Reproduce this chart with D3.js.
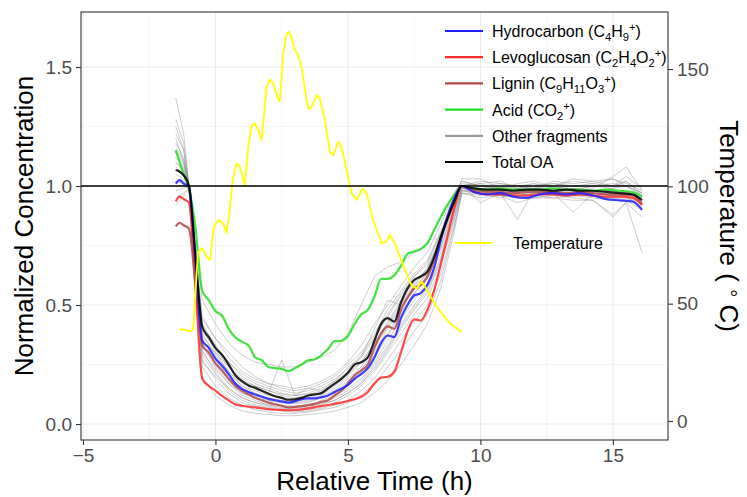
<!DOCTYPE html>
<html>
<head>
<meta charset="utf-8">
<script src="https://cdn.jsdelivr.net/npm/d3@7"></script>
<style>
  body { margin: 0; background: #fff; }
  svg { display: block; font-family: "Liberation Sans", Arial, Helvetica, sans-serif; }
</style>
</head>
<body>
<svg id="chart" width="747" height="497"></svg>
<script>
// Normalized concentration during heating, with temperature on a second axis

var width = 747,
    height = 497;

var m = {top: 12, right: 79, bottom: 57, left: 81};

// time grid (h) shared by the highlighted series
var times = [-1.5, -1.35, -1.2, -1.0, -0.75, -0.5, -0.25,
  0, 0.25, 0.5, 0.75, 1, 1.25, 1.5, 1.75, 2, 2.25, 2.5, 2.75, 3, 3.25, 3.5, 3.75,
  4, 4.25, 4.5, 4.75, 5, 5.25, 5.5, 5.75, 6, 6.25, 6.5, 6.75, 7, 7.25, 7.5, 7.75,
  8, 8.25, 8.5, 8.75, 9,
  9.3, 9.75, 10.25, 10.75, 11.25, 11.75, 12.25, 12.75, 13.25, 13.75, 14.25, 14.75, 15.25, 15.75, 16.1];

var hydrocarbon = [1.01, 1.025, 1.01, 1.0, 0.68, 0.35, 0.32,
  0.275, 0.245, 0.21, 0.17, 0.148, 0.135, 0.124, 0.115, 0.106, 0.10, 0.095, 0.09, 0.095, 0.105, 0.108, 0.108,
  0.113, 0.12, 0.135, 0.148, 0.165, 0.19, 0.21, 0.235, 0.28, 0.34, 0.372, 0.365, 0.445, 0.50, 0.54, 0.55,
  0.585, 0.655, 0.77, 0.87, 0.945,
  1.0, 0.975, 0.965, 0.97, 0.955, 0.95, 0.965, 0.97, 0.965, 0.97, 0.96, 0.945, 0.94, 0.935, 0.90];

var levoglucosan = [0.935, 0.955, 0.945, 0.93, 0.57, 0.19, 0.16,
  0.14, 0.118, 0.10, 0.083, 0.077, 0.073, 0.07, 0.066, 0.063, 0.06, 0.059, 0.058, 0.059, 0.062, 0.066, 0.071,
  0.076, 0.08, 0.085, 0.09, 0.097, 0.104, 0.115, 0.135, 0.17, 0.195, 0.198, 0.22, 0.30, 0.39, 0.44, 0.435,
  0.48, 0.56, 0.67, 0.785, 0.90,
  1.0, 0.975, 0.965, 0.965, 0.96, 0.96, 0.965, 0.965, 0.96, 0.965, 0.96, 0.955, 0.955, 0.95, 0.92];

var lignin = [0.83, 0.845, 0.835, 0.82, 0.58, 0.33, 0.30,
  0.255, 0.225, 0.19, 0.16, 0.14, 0.125, 0.11, 0.10, 0.09, 0.083, 0.077, 0.07, 0.072, 0.075, 0.08, 0.085,
  0.093, 0.10, 0.12, 0.14, 0.17, 0.205, 0.225, 0.25, 0.32, 0.38, 0.41, 0.40, 0.48, 0.53, 0.57, 0.585,
  0.62, 0.69, 0.78, 0.865, 0.94,
  1.0, 0.98, 0.975, 0.975, 0.97, 0.975, 0.975, 0.975, 0.97, 0.975, 0.97, 0.965, 0.965, 0.96, 0.925];

var acid = [1.15, 1.10, 1.05, 0.99, 0.82, 0.56, 0.52,
  0.475, 0.455, 0.40, 0.365, 0.345, 0.33, 0.28, 0.268, 0.24, 0.235, 0.232, 0.222, 0.235, 0.25, 0.268, 0.272,
  0.29, 0.315, 0.348, 0.35, 0.37, 0.42, 0.46, 0.48, 0.535, 0.61, 0.61, 0.625, 0.665, 0.715, 0.725, 0.735,
  0.76, 0.815, 0.87, 0.92, 0.96,
  1.0, 0.99, 0.985, 0.99, 0.985, 0.985, 0.985, 0.99, 0.985, 0.985, 0.98, 0.985, 0.98, 0.975, 0.955];

var totalOA = [1.067, 1.06, 1.045, 1.0, 0.70, 0.41, 0.365,
  0.32, 0.29, 0.25, 0.205, 0.18, 0.162, 0.152, 0.14, 0.127, 0.117, 0.11, 0.102, 0.104, 0.11, 0.12, 0.125,
  0.13, 0.15, 0.17, 0.19, 0.215, 0.25, 0.26, 0.28, 0.35, 0.42, 0.445, 0.43, 0.51, 0.57, 0.605, 0.62,
  0.64, 0.70, 0.785, 0.86, 0.93,
  1.0, 0.99, 0.985, 0.985, 0.98, 0.985, 0.985, 0.98, 0.985, 0.98, 0.98, 0.975, 0.97, 0.965, 0.94];

// coarser grid for the other (grey) fragments
var grayTimes = [-1.5, -1.2, -1.0, -0.5, 0, 0.5, 1, 1.5, 2, 2.5, 3, 3.5, 4, 4.5, 5, 5.5, 6, 6.5, 7, 7.5,
  8, 8.5, 9, 9.3, 10, 10.75, 11.4, 12, 12.75, 13.5, 14.25, 15, 15.5, 16.1];

var otherFragments = [
  [1.37,1.22,1.0,0.45,0.36,0.30,0.24,0.20,0.17,0.16,0.15,0.16,0.18,0.21,0.26,0.33,0.42,0.50,0.58,0.66,0.72,0.84,0.96,1.02,1.0,0.99,1.0,1.01,0.99,1.0,1.0,1.01,1.0,0.97],
  [1.28,1.18,1.0,0.42,0.33,0.26,0.20,0.17,0.15,0.13,0.12,0.13,0.15,0.18,0.22,0.28,0.36,0.45,0.54,0.62,0.68,0.80,0.94,1.0,1.01,0.98,0.95,0.99,1.0,0.98,1.0,0.99,1.02,0.96],
  [1.22,1.15,1.0,0.38,0.29,0.22,0.16,0.13,0.11,0.10,0.095,0.10,0.12,0.14,0.18,0.23,0.30,0.40,0.49,0.57,0.63,0.76,0.92,1.0,0.93,0.97,0.86,0.98,0.97,0.97,0.96,0.95,0.96,0.90],
  [1.18,1.12,1.0,0.36,0.27,0.20,0.15,0.12,0.10,0.09,0.085,0.09,0.11,0.13,0.16,0.21,0.28,0.37,0.46,0.55,0.61,0.74,0.90,0.99,0.97,0.96,0.97,0.96,0.97,0.89,0.97,0.96,0.95,0.93],
  [1.15,1.10,1.0,0.34,0.25,0.18,0.13,0.11,0.09,0.08,0.075,0.08,0.10,0.12,0.15,0.19,0.26,0.35,0.44,0.52,0.59,0.72,0.89,0.99,0.98,0.98,0.99,0.98,0.98,0.99,0.98,0.97,0.97,0.95],
  [1.12,1.08,1.0,0.33,0.24,0.17,0.12,0.10,0.08,0.07,0.07,0.075,0.09,0.11,0.14,0.18,0.25,0.33,0.42,0.50,0.57,0.70,0.88,0.99,0.99,1.0,0.99,1.0,1.01,1.0,0.99,1.04,1.08,0.98],
  [1.10,1.07,1.0,0.31,0.22,0.15,0.11,0.09,0.075,0.065,0.065,0.07,0.08,0.10,0.13,0.17,0.23,0.31,0.40,0.48,0.55,0.68,0.86,0.98,0.97,0.96,0.95,0.95,0.96,0.95,0.94,0.87,0.93,0.72],
  [1.08,1.05,1.0,0.29,0.21,0.14,0.10,0.08,0.07,0.06,0.055,0.06,0.07,0.09,0.12,0.16,0.22,0.30,0.38,0.46,0.53,0.66,0.85,0.98,0.98,0.97,0.97,0.97,0.98,0.97,0.97,0.96,0.96,0.93],
  [1.05,1.03,0.99,0.20,0.12,0.08,0.055,0.045,0.04,0.035,0.035,0.04,0.045,0.055,0.07,0.09,0.13,0.18,0.25,0.33,0.42,0.57,0.80,0.97,0.97,0.96,0.96,0.96,0.95,0.96,0.95,0.94,0.94,0.90],
  [1.02,1.01,0.99,0.35,0.30,0.22,0.17,0.15,0.13,0.27,0.12,0.15,0.14,0.18,0.24,0.28,0.40,0.52,0.50,0.58,0.66,0.78,0.93,1.03,1.03,0.99,1.01,1.02,1.0,1.03,1.02,1.0,1.04,0.99],
  [0.98,0.99,1.0,0.52,0.42,0.34,0.29,0.26,0.25,0.24,0.24,0.26,0.28,0.31,0.38,0.50,0.62,0.66,0.68,0.72,0.76,0.86,0.97,1.02,1.0,0.99,0.98,0.99,0.99,0.99,0.98,0.99,1.0,0.97],
  [0.95,0.97,0.99,0.27,0.19,0.13,0.09,0.075,0.065,0.055,0.05,0.055,0.065,0.08,0.10,0.14,0.19,0.27,0.35,0.43,0.50,0.63,0.83,0.97,0.96,0.97,0.96,0.97,0.96,0.96,0.96,0.95,0.95,0.91],
  [1.20,1.10,1.0,0.40,0.31,0.24,0.19,0.16,0.14,0.12,0.11,0.12,0.13,0.16,0.20,0.26,0.33,0.42,0.51,0.59,0.65,0.78,0.93,1.0,1.02,1.01,1.0,0.99,1.02,1.01,1.02,1.03,1.01,0.98],
  [0.92,0.96,0.99,0.24,0.16,0.11,0.08,0.06,0.05,0.045,0.045,0.05,0.06,0.07,0.09,0.12,0.17,0.24,0.31,0.39,0.46,0.60,0.82,0.97,0.95,0.96,0.93,0.95,0.95,0.94,0.94,0.88,0.93,0.87],
  [1.10,1.06,1.0,0.37,0.30,0.24,0.18,0.16,0.14,0.125,0.12,0.125,0.14,0.17,0.21,0.26,0.34,0.43,0.52,0.60,0.65,0.78,0.93,1.0,0.99,0.98,0.99,0.99,0.98,0.99,0.98,0.98,0.97,0.95],
  [1.14,1.09,1.0,0.35,0.28,0.21,0.16,0.14,0.12,0.11,0.105,0.11,0.125,0.15,0.19,0.24,0.32,0.41,0.50,0.58,0.63,0.77,0.92,1.0,0.98,0.99,0.98,0.98,0.99,0.98,0.97,0.98,0.97,0.94],
  [1.03,1.02,1.0,0.30,0.23,0.17,0.13,0.11,0.10,0.09,0.09,0.095,0.11,0.13,0.17,0.22,0.29,0.38,0.47,0.55,0.61,0.74,0.91,0.99,0.98,0.97,0.98,0.97,0.97,0.98,0.97,0.96,0.96,0.93],
  [1.25,1.15,1.0,0.44,0.36,0.28,0.22,0.19,0.17,0.15,0.14,0.15,0.17,0.20,0.25,0.30,0.38,0.48,0.56,0.63,0.69,0.81,0.95,1.01,1.0,1.01,1.0,1.0,1.01,1.0,1.01,1.0,1.02,0.97],
  [1.00,1.0,0.99,0.26,0.20,0.15,0.11,0.09,0.08,0.075,0.07,0.075,0.085,0.10,0.13,0.17,0.24,0.32,0.41,0.49,0.56,0.69,0.87,0.98,0.97,0.95,0.97,0.96,0.97,0.96,0.96,0.95,0.94,0.92],
  [1.16,1.11,1.0,0.39,0.32,0.26,0.21,0.18,0.16,0.14,0.13,0.14,0.16,0.19,0.23,0.29,0.37,0.46,0.55,0.62,0.67,0.80,0.94,1.0,1.01,1.02,0.99,1.01,1.0,1.02,1.01,1.03,1.0,0.96]
];

// temperature trace (deg C)
var tempTimes = [-1.34, -1.1, -0.96, -0.84, -0.66, -0.5, -0.33, -0.2, -0.06, 0.11, 0.29, 0.42, 0.55, 0.65,
  0.8, 0.92, 1.05, 1.11, 1.24, 1.37, 1.49, 1.62, 1.74, 1.93, 2.06, 2.18, 2.31, 2.43, 2.56, 2.69, 2.77,
  2.88, 3.0, 3.12, 3.25, 3.38, 3.5, 3.63, 3.82, 3.94, 4.13, 4.32, 4.45, 4.63, 4.76, 4.95, 5.14, 5.33,
  5.55, 5.71, 5.95, 6.27, 6.46, 6.58, 6.77, 7.15, 7.4, 7.59, 7.78, 7.91, 8.35, 8.85, 9.29];
var temperature = [39.3, 38.6, 38.3, 39.0, 72.0, 73.6, 70.0, 68.6, 82.8, 85.6, 84.2, 80.0, 91.3, 102.7,
  109.8, 108.4, 102.7, 100.6, 116.9, 126.1, 126.8, 124.0, 119.7, 142.4, 145.6, 143.9, 138.9, 136.1, 156.7, 165.2, 165.9,
  163.0, 158.1, 156.0, 151.0, 141.0, 133.0, 133.9, 138.9, 137.5, 128.2, 114.7, 113.3, 119.0, 116.9, 106.9, 97.0, 94.2,
  99.1, 97.0, 85.6, 75.7, 76.4, 79.3, 75.7, 64.3, 57.9, 56.5, 59.4, 57.2, 48.7, 41.6, 38.0];

var xTicks = [-5, 0, 5, 10, 15],
    xMinor = [-2.5, 2.5, 7.5, 12.5],
    yTicks = [0, 0.5, 1.0, 1.5],
    yMinor = [0.25, 0.75, 1.25],
    tTicks = [0, 50, 100, 150];

// legend labels, split into [text, position] pieces for the chemical formulas
var legendLabels = [
  [["Hydrocarbon (C", ""], ["4", "sub"], ["H", ""], ["9", "sub"], ["+", "sup"], [")", ""]],
  [["Levoglucosan (C", ""], ["2", "sub"], ["H", ""], ["4", "sub"], ["O", ""], ["2", "sub"], ["+", "sup"], [")", ""]],
  [["Lignin (C", ""], ["9", "sub"], ["H", ""], ["11", "sub"], ["O", ""], ["3", "sub"], ["+", "sup"], [")", ""]],
  [["Acid (CO", ""], ["2", "sub"], ["+", "sup"], [")", ""]],
  [["Other fragments", ""]],
  [["Total OA", ""]]
];
var legendColors = ["#1f1fff", "#ff2b2b", "#b04848", "#22dd22", "#9a9a9a", "#000000"];

var series = [
  {values: acid, color: "#22dd22"},
  {values: levoglucosan, color: "#ff2b2b"},
  {values: lignin, color: "#b04848"},
  {values: hydrocarbon, color: "#1f1fff"},
  {values: totalOA, color: "#000000"}
];

var x = d3.scaleLinear().domain([-5.075, 17.08]).range([m.left, width - m.right]);
var y = d3.scaleLinear().domain([-0.067, 1.731]).range([height - m.bottom, m.top]);
var yT = d3.scaleLinear().domain([-8.1, 174.3]).range([height - m.bottom, m.top]);

var svg = d3.select("#chart");

// grid
var grid = svg.append("g");
grid.selectAll(".xminor").data(xMinor).enter().append("line")
  .attr("x1", d => x(d)).attr("x2", d => x(d))
  .attr("y1", m.top).attr("y2", height - m.bottom)
  .attr("stroke", "#ebebeb").attr("stroke-width", 0.55);
grid.selectAll(".yminor").data(yMinor).enter().append("line")
  .attr("x1", m.left).attr("x2", width - m.right)
  .attr("y1", d => y(d)).attr("y2", d => y(d))
  .attr("stroke", "#ebebeb").attr("stroke-width", 0.55);
grid.selectAll(".xmajor").data(xTicks).enter().append("line")
  .attr("x1", d => x(d)).attr("x2", d => x(d))
  .attr("y1", m.top).attr("y2", height - m.bottom)
  .attr("stroke", "#ebebeb").attr("stroke-width", 1.1);
grid.selectAll(".ymajor").data(yTicks).enter().append("line")
  .attr("x1", m.left).attr("x2", width - m.right)
  .attr("y1", d => y(d)).attr("y2", d => y(d))
  .attr("stroke", "#ebebeb").attr("stroke-width", 1.1);

// grey fragments
var grayLine = d3.line()
  .x((d, i) => x(grayTimes[i]))
  .y(d => y(d));
svg.append("g").selectAll("path").data(otherFragments).enter().append("path")
  .attr("d", grayLine)
  .attr("fill", "none")
  .attr("stroke", "#8f8f8f")
  .attr("stroke-opacity", 0.55)
  .attr("stroke-width", 0.8);

// highlighted fragments and total
var mainLine = d3.line()
  .curve(d3.curveMonotoneX)
  .x((d, i) => x(times[i]))
  .y(d => y(d));
svg.append("g").selectAll("path").data(series).enter().append("path")
  .attr("d", d => mainLine(d.values))
  .attr("fill", "none")
  .attr("stroke", d => d.color)
  .attr("stroke-opacity", 0.85)
  .attr("stroke-width", 2.2)
  .attr("stroke-linejoin", "round");

// temperature
var tempLine = d3.line()
  .x((d, i) => x(tempTimes[i]))
  .y(d => yT(d));
svg.append("path")
  .attr("d", tempLine(temperature))
  .attr("fill", "none")
  .attr("stroke", "#ffff00")
  .attr("stroke-width", 1.8)
  .attr("stroke-linejoin", "round");

// reference line at 1
svg.append("line")
  .attr("x1", m.left).attr("x2", width - m.right)
  .attr("y1", y(1)).attr("y2", y(1))
  .attr("stroke", "#000").attr("stroke-width", 1.4);

// panel border
svg.append("rect")
  .attr("x", m.left).attr("y", m.top)
  .attr("width", width - m.left - m.right)
  .attr("height", height - m.top - m.bottom)
  .attr("fill", "none").attr("stroke", "#333").attr("stroke-width", 1.1);

// axes
function styleAxis(g) {
  g.select(".domain").remove();
  g.selectAll(".tick line").attr("stroke", "#333").attr("stroke-width", 1.1);
  g.selectAll(".tick text").attr("fill", "#4d4d4d").style("font-size", "19px");
}

svg.append("g")
  .attr("transform", `translate(0,${height - m.bottom})`)
  .call(d3.axisBottom(x).tickValues(xTicks).tickSize(5).tickPadding(4))
  .call(styleAxis);

svg.append("g")
  .attr("transform", `translate(${m.left},0)`)
  .call(d3.axisLeft(y).tickValues(yTicks).tickSize(5).tickPadding(4).tickFormat(d3.format(".1f")))
  .call(styleAxis);

svg.append("g")
  .attr("transform", `translate(${width - m.right},0)`)
  .call(d3.axisRight(yT).tickValues(tTicks).tickSize(5).tickPadding(4))
  .call(styleAxis);

// titles
svg.append("text")
  .attr("x", (m.left + width - m.right) / 2)
  .attr("y", 490)
  .attr("text-anchor", "middle")
  .style("font-size", "26px")
  .text("Relative Time (h)");

svg.append("text")
  .attr("transform", `translate(33,${(m.top + height - m.bottom) / 2}) rotate(-90)`)
  .attr("text-anchor", "middle")
  .style("font-size", "26px")
  .text("Normalized Concentration");

var tTitle = svg.append("text")
  .attr("transform", `translate(720,${(m.top + height - m.bottom) / 2}) rotate(90)`)
  .attr("text-anchor", "middle")
  .style("font-size", "26px");
tTitle.append("tspan").text("Temperature ( ");
tTitle.append("tspan").style("font-size", "20px").attr("dy", -2).text("°");
tTitle.append("tspan").attr("dy", 2).text(" C)");

// legend
function richText(sel, parts, size) {
  var shift = 0;
  parts.forEach(function(p) {
    var target = p[1] === "sub" ? 4 : (p[1] === "sup" ? -6 : 0);
    sel.append("tspan")
      .attr("dy", target - shift)
      .style("font-size", (p[1] ? size * 0.7 : size) + "px")
      .text(p[0]);
    shift = target;
  });
}

var legend = svg.append("g");
legendLabels.forEach(function(parts, i) {
  var ly = 31 + i * 26.2;
  legend.append("line")
    .attr("x1", 445).attr("x2", 483)
    .attr("y1", ly).attr("y2", ly)
    .attr("stroke", legendColors[i])
    .attr("stroke-width", 2.2);
  var t = legend.append("text")
    .attr("x", 492).attr("y", ly + 6)
    .attr("fill", "#000");
  richText(t, parts, 16);
});

legend.append("line")
  .attr("x1", 455).attr("x2", 492)
  .attr("y1", 243).attr("y2", 243)
  .attr("stroke", "#ffff00").attr("stroke-width", 1.8);
legend.append("text")
  .attr("x", 513).attr("y", 249)
  .style("font-size", "16px")
  .text("Temperature");
</script>
</body>
</html>
